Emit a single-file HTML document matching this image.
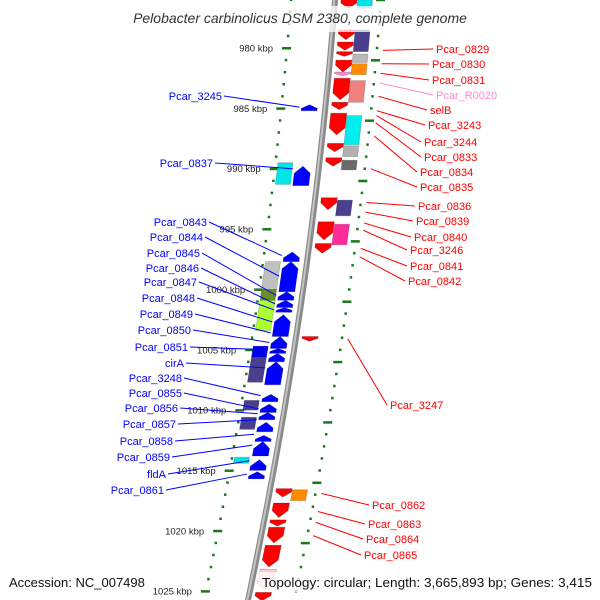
<!DOCTYPE html>
<html><head><meta charset="utf-8"><style>
html,body{margin:0;padding:0;background:#fff;}
svg{display:block;font-family:"Liberation Sans",sans-serif;}
</style></head><body>
<svg id="map" width="600" height="600" viewBox="0 0 600 600">
<g id="layer"></g>
</svg>
<script>
// ---- data (kbp) ----
const majorTicks=[980,985,990,995,1000,1005,1010,1015,1020,1025];
const plusArrowStart=[976.0,978.5,979.5,980.3,981.0,982.0,982.5,984.5,985.4,987.9,989.1,992.4,994.4,996.2,1003.9,1016.5,1017.7,1019.1,1019.7,1021.2,1023.2,1025.1];
const plusArrowEnd  =[976.7,979.3,980.2,980.7,982.0,982.3,984.3,985.1,987.2,988.6,989.8,993.4,995.9,997.0,1004.3,1017.2,1018.9,1019.6,1021.0,1023.0,1024.9,1025.8];
const plusArrowColor=["#ff0000","#ff0000","#ff0000","#ff0000","#ff0000","#ff88cc","#ff0000","#ff0000","#ff0000","#ff0000","#ff0000","#ff0000","#ff0000","#ff0000","#ff0000","#ff0000","#ff0000","#ff0000","#ff0000","#ff0000","#ffcccc","#ff0000"];
const plusBoxStart=[976.0,978.5,980.5,981.3,982.7,985.6,988.1,989.3,992.6,994.6,1016.6];
const plusBoxEnd  =[976.7,980.3,981.2,982.2,984.5,988.0,989.0,990.1,993.9,996.3,1017.5];
const plusBoxColor=["#00e5e5","#4a3f8f","#b8b8b8","#ff8c00","#f08080","#00eeee","#b0b0b0","#6a6a6a","#4a3f8f","#ff2d9a","#ff8c00"];
const minusArrowStart=[984.7,989.8,996.9,997.7,1000.2,1000.9,1001.5,1002.1,1003.9,1004.9,1005.3,1006.0,1008.7,1009.5,1010.2,1011.0,1012.1,1012.6,1014.1,1015.1];
const minusArrowEnd  =[985.2,991.4,997.7,1000.2,1000.9,1001.5,1001.9,1003.9,1004.9,1005.3,1006.0,1007.9,1009.3,1010.2,1010.8,1011.8,1012.6,1013.8,1015.0,1015.7];
const minusBoxStart=[989.5,997.7,1000.0,1000.9,1004.7,1005.6,1009.2,1010.6,1013.9];
const minusBoxEnd  =[991.3,1000.0,1000.9,1003.4,1005.6,1007.7,1010.0,1011.6,1014.4];
const minusBoxColor=["#00e5e5","#c0c0c0","#6b8e23","#adff2f","#0000ee","#4a3f8f","#4a3f8f","#4a3f8f","#00e5e5"];
const leftLabels=["Pcar_3245","Pcar_0837","Pcar_0843","Pcar_0844","Pcar_0845","Pcar_0846","Pcar_0847","Pcar_0848","Pcar_0849","Pcar_0850","Pcar_0851","cirA","Pcar_3248","Pcar_0855","Pcar_0856","Pcar_0857","Pcar_0858","Pcar_0859","fldA","Pcar_0861"];
const leftLabelY=[100,167,226,241,257,272,286,302,318,334,351,367,382,397,412,428,445,461,478,494];
const leftLabelX=[222,213,207,203,200,199,197,195,193,191,188,184,182,182,178,176,173,170,166,164];
const leftTarget=[984.9,990.0,997.2,998.9,1000.5,1001.2,1001.7,1002.7,1003.6,1004.4,1005.0,1006.5,1008.8,1009.9,1010.3,1010.8,1012.0,1012.9,1014.2,1015.3];
const rightLabels=["Pcar_0829","Pcar_0830","Pcar_0831","Pcar_R0020","selB","Pcar_3243","Pcar_3244","Pcar_0833","Pcar_0834","Pcar_0835","Pcar_0836","Pcar_0839","Pcar_0840","Pcar_3246","Pcar_0841","Pcar_0842","Pcar_3247","Pcar_0862","Pcar_0863","Pcar_0864","Pcar_0865"];
const rightLabelY=[53,68,84,99,114,129,146,161,176,191,210,225,241,254,270,285,409,509,528,543,559];
const rightLabelX=[436,432,432,436,430,428,424,424,420,420,418,416,414,410,410,408,390,372,368,366,364];
const rightTarget=[980.2,981.3,982.1,982.9,984.0,985.2,985.6,986.2,987.3,990.0,992.8,993.6,994.5,995.1,996.6,997.3,1004.1,1016.9,1018.4,1019.3,1020.4];
const rightColor=["#f00","#f00","#f00","#ff88cc","#f00","#f00","#f00","#f00","#f00","#f00","#f00","#f00","#f00","#f00","#f00","#f00","#f00","#f00","#f00","#f00","#f00"];

// ---- scales ----
const yOf=k=>48+(k-980)*12.07;
const cx=y=>335-0.0775*y-0.0001125*y*y;
const ns="http://www.w3.org/2000/svg";
const L=document.getElementById('layer');
function mk(t,a,p){const e=document.createElementNS(ns,t);for(const k in a)e.setAttribute(k,a[k]);(p||L).appendChild(e);return e;}
const P=a=>a.map(q=>q[0].toFixed(1)+','+q[1].toFixed(1)).join(' ');

for(let k=976;k<=1026;k++){
  const y=yOf(k);
  const isMaj=majorTicks.includes(k);
  let e;
  if(isMaj){e=mk('rect',{x:cx(y)-44-5,y:y-1,width:9,height:2.5,fill:'#1a7a1a'});}
  else{e=mk('rect',{x:cx(y)-44-1.2,y:y-1.2,width:2.5,height:2.5,fill:'#1a7a1a'});}
  
  
  let r;
  if((k-981)%5===0){r=mk('rect',{x:cx(y)+46-5,y:y-1,width:9,height:2.5,fill:'#1a7a1a'});}
  else{r=mk('rect',{x:cx(y)+46-1.2,y:y-1.2,width:2.5,height:2.5,fill:'#1a7a1a'});}
  
  
}
majorTicks.forEach(k=>{
  const y=yOf(k);
  const t=mk('text',{x:cx(y)-58,y:y+3.5,'font-size':9.5,fill:'#222','text-anchor':'end'});
  t.textContent=k+' kbp';
  
  
});

{
  const pts=[];for(let y=-5;y<=605;y+=10)pts.push([cx(y),y]);
  const e=mk('polyline',{points:P(pts),fill:'none',stroke:'#8a8a8a','stroke-width':6});
  
  
  const e2=mk('polyline',{points:P(pts.map(p=>[p[0]-0.8,p[1]])),fill:'none',stroke:'#c4c4c4','stroke-width':2});
  
  
}

function arrow(k1,k2,off,dir,col,w){
  const y1=yOf(k1),y2=yOf(k2);
  const h=Math.min(7,(y2-y1)*0.6);
  let pts;
  if(dir>0){const yh=y2-h;pts=[[cx(y1)+off-w,y1],[cx(y1)+off+w,y1],[cx(yh)+off+w,yh],[cx(y2)+off,y2],[cx(yh)+off-w,yh]];}
  else{const yh=y1+h;pts=[[cx(y1)+off,y1],[cx(yh)+off+w,yh],[cx(y2)+off+w,y2],[cx(y2)+off-w,y2],[cx(yh)+off-w,yh]];}
  return mk('polygon',{points:P(pts),fill:col,stroke:'rgba(0,0,0,0.25)','stroke-width':0.8});
}
function box(k1,k2,off,col,w){
  const y1=yOf(k1),y2=yOf(k2);
  const pts=[[cx(y1)+off-w,y1],[cx(y1)+off+w,y1],[cx(y2)+off+w,y2],[cx(y2)+off-w,y2]];
  return mk('polygon',{points:P(pts),fill:col,stroke:'rgba(0,0,0,0.2)','stroke-width':0.8});
}
plusArrowStart.forEach((s,i)=>{
  const e=arrow(s,plusArrowEnd[i],14,1,plusArrowColor[i],8);
  
  
});
plusBoxStart.forEach((s,i)=>{
  const e=box(s,plusBoxEnd[i],30,plusBoxColor[i],7.5);
  
  
});
minusArrowStart.forEach((s,i)=>{
  const e=arrow(s,minusArrowEnd[i],-16,-1,'#0000ff',8);
  
  
});
minusBoxStart.forEach((s,i)=>{
  const e=box(s,minusBoxEnd[i],-34,minusBoxColor[i],7.5);
  
  
});

leftLabels.forEach((n,i)=>{
  const ty=yOf(leftTarget[i]);
  const ln=mk('line',{x1:leftLabelX[i]+2,y1:leftLabelY[i]-4,x2:cx(ty)-26,y2:ty,stroke:'#0000ff','stroke-width':1});
  
  
  const t=mk('text',{x:leftLabelX[i],y:leftLabelY[i],'font-size':11,fill:'#0000ff','text-anchor':'end'});
  t.textContent=n;
  
  
});
rightLabels.forEach((n,i)=>{
  const ty=yOf(rightTarget[i]);
  const ln=mk('line',{x1:rightLabelX[i]-3,y1:rightLabelY[i]-4,x2:cx(ty)+52,y2:ty,stroke:rightColor[i],'stroke-width':1});
  
  
  const t=mk('text',{x:rightLabelX[i],y:rightLabelY[i],'font-size':11,fill:rightColor[i]});
  t.textContent=n;
  
  
});
</script>
<svg width="600" height="600" style="position:absolute;left:0;top:0">
<rect x="110" y="6" width="385" height="26" fill="#fff" fill-opacity="0.75"/>
<text x="300" y="23" font-family="Liberation Sans, sans-serif" font-size="14" font-style="italic" fill="#333" text-anchor="middle">Pelobacter carbinolicus DSM 2380, complete genome</text>
<rect x="5" y="572" width="145" height="20" fill="#fff" fill-opacity="0.75"/>
<text x="9" y="587" font-family="Liberation Sans, sans-serif" font-size="13" fill="#111">Accession: NC_007498</text>
<rect x="258" y="572" width="338" height="20" fill="#fff" fill-opacity="0.75"/>
<text x="262" y="587" font-family="Liberation Sans, sans-serif" font-size="13" fill="#111" textLength="330" lengthAdjust="spacingAndGlyphs">Topology: circular; Length: 3,665,893 bp; Genes: 3,415</text>
</svg>
</body></html>
